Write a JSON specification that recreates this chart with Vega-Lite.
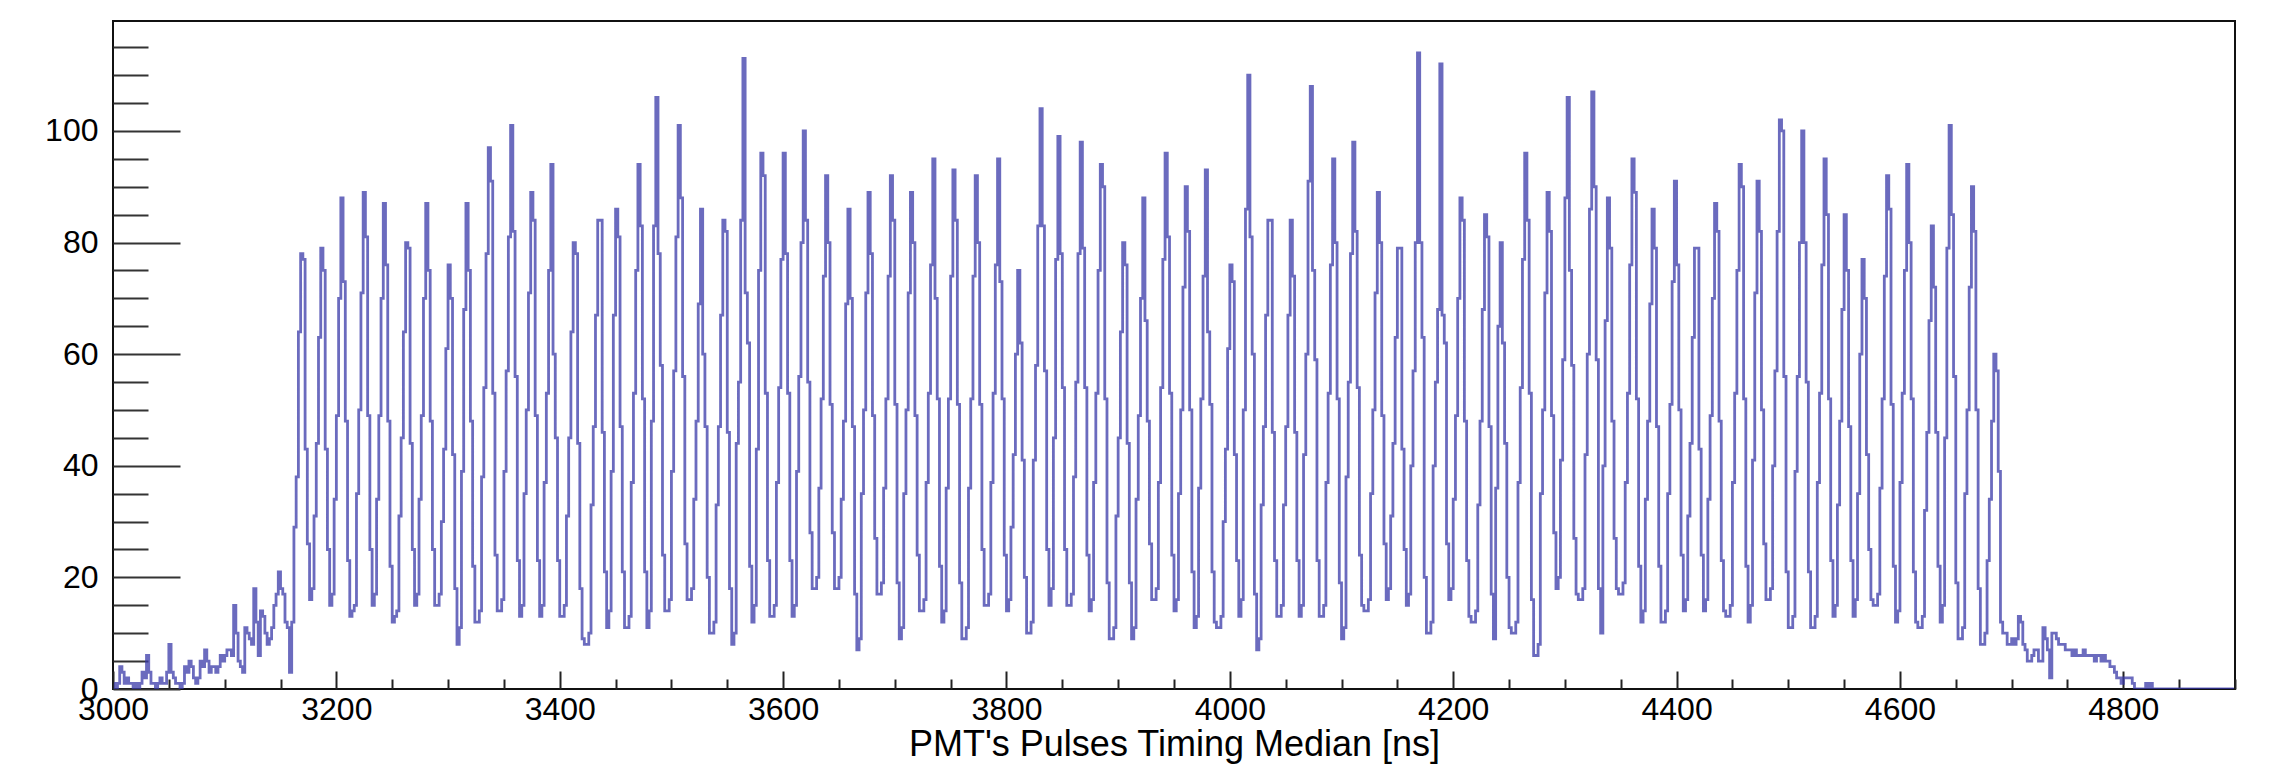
{"$schema":"https://vega.github.io/schema/vega-lite/v6.json","width":2122,"height":668,"autosize":{"type":"none"},"padding":{"left":113,"top":21,"right":45,"bottom":76},"background":"white","config":{"view":{"stroke":"#111","strokeWidth":2},"font":"Liberation Sans"},
"data":{"values":[
{"t":3001,"n":1},{"t":3003,"n":0},{"t":3005,"n":1},{"t":3007,"n":4},{"t":3009,"n":3},{"t":3011,"n":1},{"t":3013,"n":2},{"t":3015,"n":1},{"t":3017,"n":1},{"t":3019,"n":0},
{"t":3021,"n":1},{"t":3023,"n":0},{"t":3025,"n":1},{"t":3027,"n":3},{"t":3029,"n":2},{"t":3031,"n":6},{"t":3033,"n":3},{"t":3035,"n":1},{"t":3037,"n":1},{"t":3039,"n":0},
{"t":3041,"n":1},{"t":3043,"n":2},{"t":3045,"n":1},{"t":3047,"n":1},{"t":3049,"n":3},{"t":3051,"n":8},{"t":3053,"n":3},{"t":3055,"n":2},{"t":3057,"n":1},{"t":3059,"n":1},
{"t":3061,"n":0},{"t":3063,"n":1},{"t":3065,"n":4},{"t":3067,"n":3},{"t":3069,"n":5},{"t":3071,"n":4},{"t":3073,"n":2},{"t":3075,"n":1},{"t":3077,"n":2},{"t":3079,"n":5},
{"t":3081,"n":4},{"t":3083,"n":7},{"t":3085,"n":5},{"t":3087,"n":3},{"t":3089,"n":4},{"t":3091,"n":4},{"t":3093,"n":3},{"t":3095,"n":4},{"t":3097,"n":6},{"t":3099,"n":5},
{"t":3101,"n":6},{"t":3103,"n":7},{"t":3105,"n":7},{"t":3107,"n":6},{"t":3109,"n":15},{"t":3111,"n":10},{"t":3113,"n":5},{"t":3115,"n":4},{"t":3117,"n":3},{"t":3119,"n":11},
{"t":3121,"n":10},{"t":3123,"n":9},{"t":3125,"n":8},{"t":3127,"n":18},{"t":3129,"n":12},{"t":3131,"n":6},{"t":3133,"n":14},{"t":3135,"n":13},{"t":3137,"n":10},{"t":3139,"n":8},
{"t":3141,"n":9},{"t":3143,"n":11},{"t":3145,"n":15},{"t":3147,"n":17},{"t":3149,"n":21},{"t":3151,"n":18},{"t":3153,"n":17},{"t":3155,"n":12},{"t":3157,"n":11},{"t":3159,"n":3},
{"t":3161,"n":12},{"t":3163,"n":29},{"t":3165,"n":38},{"t":3167,"n":64},{"t":3169,"n":78},{"t":3171,"n":77},{"t":3173,"n":43},{"t":3175,"n":26},{"t":3177,"n":16},{"t":3179,"n":18},
{"t":3181,"n":31},{"t":3183,"n":44},{"t":3185,"n":63},{"t":3187,"n":79},{"t":3189,"n":75},{"t":3191,"n":43},{"t":3193,"n":25},{"t":3195,"n":15},{"t":3197,"n":17},{"t":3199,"n":34},
{"t":3201,"n":49},{"t":3203,"n":70},{"t":3205,"n":88},{"t":3207,"n":73},{"t":3209,"n":48},{"t":3211,"n":23},{"t":3213,"n":13},{"t":3215,"n":14},{"t":3217,"n":15},{"t":3219,"n":35},
{"t":3221,"n":50},{"t":3223,"n":71},{"t":3225,"n":89},{"t":3227,"n":81},{"t":3229,"n":49},{"t":3231,"n":25},{"t":3233,"n":15},{"t":3235,"n":17},{"t":3237,"n":34},{"t":3239,"n":49},
{"t":3241,"n":70},{"t":3243,"n":87},{"t":3245,"n":76},{"t":3247,"n":48},{"t":3249,"n":22},{"t":3251,"n":12},{"t":3253,"n":13},{"t":3255,"n":14},{"t":3257,"n":31},{"t":3259,"n":45},
{"t":3261,"n":64},{"t":3263,"n":80},{"t":3265,"n":79},{"t":3267,"n":44},{"t":3269,"n":25},{"t":3271,"n":15},{"t":3273,"n":17},{"t":3275,"n":34},{"t":3277,"n":49},{"t":3279,"n":70},
{"t":3281,"n":87},{"t":3283,"n":75},{"t":3285,"n":48},{"t":3287,"n":25},{"t":3289,"n":15},{"t":3291,"n":15},{"t":3293,"n":17},{"t":3295,"n":30},{"t":3297,"n":43},{"t":3299,"n":61},
{"t":3301,"n":76},{"t":3303,"n":70},{"t":3305,"n":42},{"t":3307,"n":18},{"t":3309,"n":8},{"t":3311,"n":11},{"t":3313,"n":39},{"t":3315,"n":68},{"t":3317,"n":87},{"t":3319,"n":75},
{"t":3321,"n":48},{"t":3323,"n":22},{"t":3325,"n":12},{"t":3327,"n":12},{"t":3329,"n":14},{"t":3331,"n":38},{"t":3333,"n":54},{"t":3335,"n":78},{"t":3337,"n":97},{"t":3339,"n":91},
{"t":3341,"n":53},{"t":3343,"n":24},{"t":3345,"n":14},{"t":3347,"n":14},{"t":3349,"n":16},{"t":3351,"n":39},{"t":3353,"n":57},{"t":3355,"n":81},{"t":3357,"n":101},{"t":3359,"n":82},
{"t":3361,"n":56},{"t":3363,"n":23},{"t":3365,"n":13},{"t":3367,"n":15},{"t":3369,"n":35},{"t":3371,"n":50},{"t":3373,"n":71},{"t":3375,"n":89},{"t":3377,"n":84},{"t":3379,"n":49},
{"t":3381,"n":23},{"t":3383,"n":13},{"t":3385,"n":15},{"t":3387,"n":37},{"t":3389,"n":53},{"t":3391,"n":75},{"t":3393,"n":94},{"t":3395,"n":60},{"t":3397,"n":45},{"t":3399,"n":23},
{"t":3401,"n":13},{"t":3403,"n":13},{"t":3405,"n":15},{"t":3407,"n":31},{"t":3409,"n":45},{"t":3411,"n":64},{"t":3413,"n":80},{"t":3415,"n":78},{"t":3417,"n":44},{"t":3419,"n":18},
{"t":3421,"n":9},{"t":3423,"n":8},{"t":3425,"n":8},{"t":3427,"n":10},{"t":3429,"n":33},{"t":3431,"n":47},{"t":3433,"n":67},{"t":3435,"n":84},{"t":3437,"n":84},{"t":3439,"n":46},
{"t":3441,"n":21},{"t":3443,"n":11},{"t":3445,"n":14},{"t":3447,"n":39},{"t":3449,"n":67},{"t":3451,"n":86},{"t":3453,"n":81},{"t":3455,"n":47},{"t":3457,"n":21},{"t":3459,"n":11},
{"t":3461,"n":11},{"t":3463,"n":13},{"t":3465,"n":37},{"t":3467,"n":53},{"t":3469,"n":75},{"t":3471,"n":94},{"t":3473,"n":83},{"t":3475,"n":52},{"t":3477,"n":21},{"t":3479,"n":11},
{"t":3481,"n":14},{"t":3483,"n":48},{"t":3485,"n":83},{"t":3487,"n":106},{"t":3489,"n":78},{"t":3491,"n":58},{"t":3493,"n":24},{"t":3495,"n":14},{"t":3497,"n":14},{"t":3499,"n":16},
{"t":3501,"n":39},{"t":3503,"n":57},{"t":3505,"n":81},{"t":3507,"n":101},{"t":3509,"n":88},{"t":3511,"n":56},{"t":3513,"n":26},{"t":3515,"n":16},{"t":3517,"n":16},{"t":3519,"n":18},
{"t":3521,"n":34},{"t":3523,"n":48},{"t":3525,"n":69},{"t":3527,"n":86},{"t":3529,"n":60},{"t":3531,"n":47},{"t":3533,"n":20},{"t":3535,"n":10},{"t":3537,"n":10},{"t":3539,"n":12},
{"t":3541,"n":33},{"t":3543,"n":47},{"t":3545,"n":67},{"t":3547,"n":84},{"t":3549,"n":82},{"t":3551,"n":46},{"t":3553,"n":18},{"t":3555,"n":8},{"t":3557,"n":10},{"t":3559,"n":44},
{"t":3561,"n":55},{"t":3563,"n":84},{"t":3565,"n":113},{"t":3567,"n":71},{"t":3569,"n":62},{"t":3571,"n":22},{"t":3573,"n":12},{"t":3575,"n":15},{"t":3577,"n":43},{"t":3579,"n":75},
{"t":3581,"n":96},{"t":3583,"n":92},{"t":3585,"n":53},{"t":3587,"n":23},{"t":3589,"n":13},{"t":3591,"n":13},{"t":3593,"n":15},{"t":3595,"n":37},{"t":3597,"n":54},{"t":3599,"n":77},
{"t":3601,"n":96},{"t":3603,"n":78},{"t":3605,"n":53},{"t":3607,"n":23},{"t":3609,"n":13},{"t":3611,"n":15},{"t":3613,"n":39},{"t":3615,"n":56},{"t":3617,"n":80},{"t":3619,"n":100},
{"t":3621,"n":84},{"t":3623,"n":55},{"t":3625,"n":28},{"t":3627,"n":18},{"t":3629,"n":18},{"t":3631,"n":20},{"t":3633,"n":36},{"t":3635,"n":52},{"t":3637,"n":74},{"t":3639,"n":92},
{"t":3641,"n":80},{"t":3643,"n":51},{"t":3645,"n":28},{"t":3647,"n":18},{"t":3649,"n":18},{"t":3651,"n":20},{"t":3653,"n":34},{"t":3655,"n":48},{"t":3657,"n":69},{"t":3659,"n":86},
{"t":3661,"n":70},{"t":3663,"n":47},{"t":3665,"n":17},{"t":3667,"n":7},{"t":3669,"n":9},{"t":3671,"n":35},{"t":3673,"n":50},{"t":3675,"n":71},{"t":3677,"n":89},{"t":3679,"n":78},
{"t":3681,"n":49},{"t":3683,"n":27},{"t":3685,"n":17},{"t":3687,"n":17},{"t":3689,"n":19},{"t":3691,"n":36},{"t":3693,"n":52},{"t":3695,"n":74},{"t":3697,"n":92},{"t":3699,"n":84},
{"t":3701,"n":51},{"t":3703,"n":19},{"t":3705,"n":9},{"t":3707,"n":11},{"t":3709,"n":35},{"t":3711,"n":50},{"t":3713,"n":71},{"t":3715,"n":89},{"t":3717,"n":80},{"t":3719,"n":49},
{"t":3721,"n":24},{"t":3723,"n":14},{"t":3725,"n":14},{"t":3727,"n":16},{"t":3729,"n":37},{"t":3731,"n":53},{"t":3733,"n":76},{"t":3735,"n":95},{"t":3737,"n":70},{"t":3739,"n":52},
{"t":3741,"n":22},{"t":3743,"n":12},{"t":3745,"n":14},{"t":3747,"n":36},{"t":3749,"n":52},{"t":3751,"n":74},{"t":3753,"n":93},{"t":3755,"n":84},{"t":3757,"n":51},{"t":3759,"n":19},
{"t":3761,"n":9},{"t":3763,"n":9},{"t":3765,"n":11},{"t":3767,"n":36},{"t":3769,"n":52},{"t":3771,"n":74},{"t":3773,"n":92},{"t":3775,"n":80},{"t":3777,"n":51},{"t":3779,"n":25},
{"t":3781,"n":15},{"t":3783,"n":15},{"t":3785,"n":17},{"t":3787,"n":37},{"t":3789,"n":53},{"t":3791,"n":76},{"t":3793,"n":95},{"t":3795,"n":73},{"t":3797,"n":52},{"t":3799,"n":24},
{"t":3801,"n":14},{"t":3803,"n":16},{"t":3805,"n":29},{"t":3807,"n":42},{"t":3809,"n":60},{"t":3811,"n":75},{"t":3813,"n":62},{"t":3815,"n":41},{"t":3817,"n":20},{"t":3819,"n":10},
{"t":3821,"n":10},{"t":3823,"n":12},{"t":3825,"n":41},{"t":3827,"n":58},{"t":3829,"n":83},{"t":3831,"n":104},{"t":3833,"n":83},{"t":3835,"n":57},{"t":3837,"n":25},{"t":3839,"n":15},
{"t":3841,"n":18},{"t":3843,"n":45},{"t":3845,"n":77},{"t":3847,"n":99},{"t":3849,"n":78},{"t":3851,"n":54},{"t":3853,"n":25},{"t":3855,"n":15},{"t":3857,"n":15},{"t":3859,"n":17},
{"t":3861,"n":38},{"t":3863,"n":55},{"t":3865,"n":78},{"t":3867,"n":98},{"t":3869,"n":79},{"t":3871,"n":54},{"t":3873,"n":24},{"t":3875,"n":14},{"t":3877,"n":16},{"t":3879,"n":37},
{"t":3881,"n":53},{"t":3883,"n":75},{"t":3885,"n":94},{"t":3887,"n":90},{"t":3889,"n":52},{"t":3891,"n":19},{"t":3893,"n":9},{"t":3895,"n":9},{"t":3897,"n":11},{"t":3899,"n":31},
{"t":3901,"n":45},{"t":3903,"n":64},{"t":3905,"n":80},{"t":3907,"n":76},{"t":3909,"n":44},{"t":3911,"n":19},{"t":3913,"n":9},{"t":3915,"n":11},{"t":3917,"n":34},{"t":3919,"n":49},
{"t":3921,"n":70},{"t":3923,"n":88},{"t":3925,"n":66},{"t":3927,"n":48},{"t":3929,"n":26},{"t":3931,"n":16},{"t":3933,"n":16},{"t":3935,"n":18},{"t":3937,"n":37},{"t":3939,"n":54},
{"t":3941,"n":77},{"t":3943,"n":96},{"t":3945,"n":81},{"t":3947,"n":53},{"t":3949,"n":24},{"t":3951,"n":14},{"t":3953,"n":16},{"t":3955,"n":35},{"t":3957,"n":50},{"t":3959,"n":72},
{"t":3961,"n":90},{"t":3963,"n":82},{"t":3965,"n":50},{"t":3967,"n":21},{"t":3969,"n":11},{"t":3971,"n":13},{"t":3973,"n":36},{"t":3975,"n":52},{"t":3977,"n":74},{"t":3979,"n":93},
{"t":3981,"n":64},{"t":3983,"n":51},{"t":3985,"n":21},{"t":3987,"n":12},{"t":3989,"n":11},{"t":3991,"n":11},{"t":3993,"n":13},{"t":3995,"n":30},{"t":3997,"n":43},{"t":3999,"n":61},
{"t":4001,"n":76},{"t":4003,"n":73},{"t":4005,"n":42},{"t":4007,"n":23},{"t":4009,"n":13},{"t":4011,"n":16},{"t":4013,"n":50},{"t":4015,"n":86},{"t":4017,"n":110},{"t":4019,"n":81},
{"t":4021,"n":60},{"t":4023,"n":17},{"t":4025,"n":7},{"t":4027,"n":9},{"t":4029,"n":33},{"t":4031,"n":47},{"t":4033,"n":67},{"t":4035,"n":84},{"t":4037,"n":84},{"t":4039,"n":46},
{"t":4041,"n":23},{"t":4043,"n":13},{"t":4045,"n":13},{"t":4047,"n":15},{"t":4049,"n":33},{"t":4051,"n":47},{"t":4053,"n":67},{"t":4055,"n":84},{"t":4057,"n":74},{"t":4059,"n":46},
{"t":4061,"n":23},{"t":4063,"n":13},{"t":4065,"n":15},{"t":4067,"n":42},{"t":4069,"n":60},{"t":4071,"n":91},{"t":4073,"n":108},{"t":4075,"n":75},{"t":4077,"n":59},{"t":4079,"n":23},
{"t":4081,"n":13},{"t":4083,"n":13},{"t":4085,"n":15},{"t":4087,"n":37},{"t":4089,"n":53},{"t":4091,"n":76},{"t":4093,"n":95},{"t":4095,"n":80},{"t":4097,"n":52},{"t":4099,"n":19},
{"t":4101,"n":9},{"t":4103,"n":11},{"t":4105,"n":38},{"t":4107,"n":55},{"t":4109,"n":78},{"t":4111,"n":98},{"t":4113,"n":82},{"t":4115,"n":54},{"t":4117,"n":24},{"t":4119,"n":15},
{"t":4121,"n":14},{"t":4123,"n":14},{"t":4125,"n":16},{"t":4127,"n":35},{"t":4129,"n":50},{"t":4131,"n":71},{"t":4133,"n":89},{"t":4135,"n":80},{"t":4137,"n":49},{"t":4139,"n":26},
{"t":4141,"n":16},{"t":4143,"n":18},{"t":4145,"n":31},{"t":4147,"n":44},{"t":4149,"n":63},{"t":4151,"n":79},{"t":4153,"n":79},{"t":4155,"n":43},{"t":4157,"n":25},{"t":4159,"n":15},
{"t":4161,"n":17},{"t":4163,"n":40},{"t":4165,"n":57},{"t":4167,"n":80},{"t":4169,"n":114},{"t":4171,"n":80},{"t":4173,"n":63},{"t":4175,"n":20},{"t":4177,"n":10},{"t":4179,"n":10},
{"t":4181,"n":12},{"t":4183,"n":40},{"t":4185,"n":55},{"t":4187,"n":68},{"t":4189,"n":112},{"t":4191,"n":67},{"t":4193,"n":62},{"t":4195,"n":26},{"t":4197,"n":16},{"t":4199,"n":18},
{"t":4201,"n":34},{"t":4203,"n":49},{"t":4205,"n":70},{"t":4207,"n":88},{"t":4209,"n":84},{"t":4211,"n":48},{"t":4213,"n":23},{"t":4215,"n":13},{"t":4217,"n":12},{"t":4219,"n":12},
{"t":4221,"n":14},{"t":4223,"n":33},{"t":4225,"n":48},{"t":4227,"n":68},{"t":4229,"n":85},{"t":4231,"n":81},{"t":4233,"n":47},{"t":4235,"n":17},{"t":4237,"n":9},{"t":4239,"n":36},
{"t":4241,"n":65},{"t":4243,"n":80},{"t":4245,"n":62},{"t":4247,"n":44},{"t":4249,"n":20},{"t":4251,"n":11},{"t":4253,"n":10},{"t":4255,"n":10},{"t":4257,"n":12},{"t":4259,"n":37},
{"t":4261,"n":54},{"t":4263,"n":77},{"t":4265,"n":96},{"t":4267,"n":84},{"t":4269,"n":53},{"t":4271,"n":16},{"t":4273,"n":6},{"t":4275,"n":6},{"t":4277,"n":8},{"t":4279,"n":35},
{"t":4281,"n":50},{"t":4283,"n":71},{"t":4285,"n":89},{"t":4287,"n":82},{"t":4289,"n":49},{"t":4291,"n":28},{"t":4293,"n":18},{"t":4295,"n":20},{"t":4297,"n":41},{"t":4299,"n":59},
{"t":4301,"n":88},{"t":4303,"n":106},{"t":4305,"n":75},{"t":4307,"n":58},{"t":4309,"n":27},{"t":4311,"n":17},{"t":4313,"n":16},{"t":4315,"n":16},{"t":4317,"n":18},{"t":4319,"n":42},
{"t":4321,"n":60},{"t":4323,"n":86},{"t":4325,"n":107},{"t":4327,"n":90},{"t":4329,"n":59},{"t":4331,"n":18},{"t":4333,"n":10},{"t":4335,"n":40},{"t":4337,"n":66},{"t":4339,"n":88},
{"t":4341,"n":79},{"t":4343,"n":48},{"t":4345,"n":27},{"t":4347,"n":18},{"t":4349,"n":17},{"t":4351,"n":17},{"t":4353,"n":19},{"t":4355,"n":37},{"t":4357,"n":53},{"t":4359,"n":76},
{"t":4361,"n":95},{"t":4363,"n":89},{"t":4365,"n":52},{"t":4367,"n":22},{"t":4369,"n":12},{"t":4371,"n":14},{"t":4373,"n":34},{"t":4375,"n":48},{"t":4377,"n":69},{"t":4379,"n":86},
{"t":4381,"n":79},{"t":4383,"n":47},{"t":4385,"n":22},{"t":4387,"n":12},{"t":4389,"n":12},{"t":4391,"n":14},{"t":4393,"n":35},{"t":4395,"n":51},{"t":4397,"n":73},{"t":4399,"n":91},
{"t":4401,"n":76},{"t":4403,"n":50},{"t":4405,"n":24},{"t":4407,"n":14},{"t":4409,"n":16},{"t":4411,"n":31},{"t":4413,"n":44},{"t":4415,"n":63},{"t":4417,"n":79},{"t":4419,"n":79},
{"t":4421,"n":43},{"t":4423,"n":24},{"t":4425,"n":14},{"t":4427,"n":16},{"t":4429,"n":34},{"t":4431,"n":49},{"t":4433,"n":70},{"t":4435,"n":87},{"t":4437,"n":82},{"t":4439,"n":48},
{"t":4441,"n":23},{"t":4443,"n":14},{"t":4445,"n":13},{"t":4447,"n":13},{"t":4449,"n":15},{"t":4451,"n":37},{"t":4453,"n":53},{"t":4455,"n":75},{"t":4457,"n":94},{"t":4459,"n":90},
{"t":4461,"n":52},{"t":4463,"n":22},{"t":4465,"n":12},{"t":4467,"n":15},{"t":4469,"n":41},{"t":4471,"n":71},{"t":4473,"n":91},{"t":4475,"n":82},{"t":4477,"n":50},{"t":4479,"n":26},
{"t":4481,"n":16},{"t":4483,"n":16},{"t":4485,"n":18},{"t":4487,"n":40},{"t":4489,"n":57},{"t":4491,"n":82},{"t":4493,"n":102},{"t":4495,"n":100},{"t":4497,"n":56},{"t":4499,"n":21},
{"t":4501,"n":11},{"t":4503,"n":11},{"t":4505,"n":13},{"t":4507,"n":39},{"t":4509,"n":56},{"t":4511,"n":80},{"t":4513,"n":100},{"t":4515,"n":80},{"t":4517,"n":55},{"t":4519,"n":21},
{"t":4521,"n":11},{"t":4523,"n":11},{"t":4525,"n":13},{"t":4527,"n":37},{"t":4529,"n":53},{"t":4531,"n":76},{"t":4533,"n":95},{"t":4535,"n":85},{"t":4537,"n":52},{"t":4539,"n":23},
{"t":4541,"n":13},{"t":4543,"n":15},{"t":4545,"n":33},{"t":4547,"n":48},{"t":4549,"n":68},{"t":4551,"n":85},{"t":4553,"n":75},{"t":4555,"n":47},{"t":4557,"n":23},{"t":4559,"n":13},
{"t":4561,"n":16},{"t":4563,"n":35},{"t":4565,"n":60},{"t":4567,"n":77},{"t":4569,"n":70},{"t":4571,"n":42},{"t":4573,"n":25},{"t":4575,"n":16},{"t":4577,"n":15},{"t":4579,"n":15},
{"t":4581,"n":17},{"t":4583,"n":36},{"t":4585,"n":52},{"t":4587,"n":74},{"t":4589,"n":92},{"t":4591,"n":86},{"t":4593,"n":51},{"t":4595,"n":22},{"t":4597,"n":12},{"t":4599,"n":14},
{"t":4601,"n":37},{"t":4603,"n":53},{"t":4605,"n":75},{"t":4607,"n":94},{"t":4609,"n":80},{"t":4611,"n":52},{"t":4613,"n":21},{"t":4615,"n":12},{"t":4617,"n":11},{"t":4619,"n":11},
{"t":4621,"n":13},{"t":4623,"n":32},{"t":4625,"n":46},{"t":4627,"n":66},{"t":4629,"n":83},{"t":4631,"n":72},{"t":4633,"n":46},{"t":4635,"n":22},{"t":4637,"n":12},{"t":4639,"n":15},
{"t":4641,"n":45},{"t":4643,"n":79},{"t":4645,"n":101},{"t":4647,"n":85},{"t":4649,"n":56},{"t":4651,"n":19},{"t":4653,"n":9},{"t":4655,"n":9},{"t":4657,"n":11},{"t":4659,"n":35},
{"t":4661,"n":50},{"t":4663,"n":72},{"t":4665,"n":90},{"t":4667,"n":82},{"t":4669,"n":50},{"t":4671,"n":18},{"t":4673,"n":8},{"t":4675,"n":8},{"t":4677,"n":10},{"t":4679,"n":23},
{"t":4681,"n":34},{"t":4683,"n":48},{"t":4685,"n":60},{"t":4687,"n":57},{"t":4689,"n":39},{"t":4691,"n":12},{"t":4693,"n":10},{"t":4695,"n":10},{"t":4697,"n":8},{"t":4699,"n":8},
{"t":4701,"n":9},{"t":4703,"n":8},{"t":4705,"n":9},{"t":4707,"n":13},{"t":4709,"n":12},{"t":4711,"n":8},{"t":4713,"n":7},{"t":4715,"n":5},{"t":4717,"n":5},{"t":4719,"n":6},
{"t":4721,"n":7},{"t":4723,"n":7},{"t":4725,"n":5},{"t":4727,"n":5},{"t":4729,"n":11},{"t":4731,"n":9},{"t":4733,"n":7},{"t":4735,"n":2},{"t":4737,"n":10},{"t":4739,"n":10},
{"t":4741,"n":9},{"t":4743,"n":8},{"t":4745,"n":8},{"t":4747,"n":8},{"t":4749,"n":7},{"t":4751,"n":7},{"t":4753,"n":7},{"t":4755,"n":6},{"t":4757,"n":7},{"t":4759,"n":6},
{"t":4761,"n":6},{"t":4763,"n":6},{"t":4765,"n":7},{"t":4767,"n":6},{"t":4769,"n":6},{"t":4771,"n":6},{"t":4773,"n":6},{"t":4775,"n":5},{"t":4777,"n":6},{"t":4779,"n":6},
{"t":4781,"n":5},{"t":4783,"n":6},{"t":4785,"n":5},{"t":4787,"n":5},{"t":4789,"n":4},{"t":4791,"n":4},{"t":4793,"n":3},{"t":4795,"n":2},{"t":4797,"n":2},{"t":4799,"n":1},
{"t":4801,"n":2},{"t":4803,"n":2},{"t":4805,"n":2},{"t":4807,"n":2},{"t":4809,"n":1},{"t":4811,"n":0},{"t":4813,"n":0},{"t":4815,"n":0},{"t":4817,"n":0},{"t":4819,"n":0},
{"t":4821,"n":1},{"t":4823,"n":0},{"t":4825,"n":1},{"t":4827,"n":0},{"t":4829,"n":0},{"t":4831,"n":0},{"t":4833,"n":0},{"t":4835,"n":0},{"t":4837,"n":0},{"t":4839,"n":0},
{"t":4841,"n":0},{"t":4843,"n":0},{"t":4845,"n":0},{"t":4847,"n":0},{"t":4849,"n":0},{"t":4851,"n":0},{"t":4853,"n":0},{"t":4855,"n":0},{"t":4857,"n":0},{"t":4859,"n":0},
{"t":4861,"n":0},{"t":4863,"n":0},{"t":4865,"n":0},{"t":4867,"n":0},{"t":4869,"n":0},{"t":4871,"n":0},{"t":4873,"n":0},{"t":4875,"n":0},{"t":4877,"n":0},{"t":4879,"n":0},
{"t":4881,"n":0},{"t":4883,"n":0},{"t":4885,"n":0},{"t":4887,"n":0},{"t":4889,"n":0},{"t":4891,"n":0},{"t":4893,"n":0},{"t":4895,"n":0},{"t":4897,"n":0},{"t":4899,"n":0}
]},
"mark":{"type":"line","interpolate":"step","stroke":"#3a3aa8","strokeOpacity":0.75,"strokeWidth":2.8,"clip":true},
"encoding":{
"x":{"field":"t","type":"quantitative","scale":{"domain":[3000,4900],"nice":false,"zero":false},
"axis":{"title":"PMT's Pulses Timing Median [ns]","titleFont":"Liberation Sans","titleFontSize":36,"titleFontWeight":"normal","titleColor":"black","titlePadding":-6,
"values":[3000,3050,3100,3150,3200,3250,3300,3350,3400,3450,3500,3550,3600,3650,3700,3750,3800,3850,3900,3950,4000,4050,4100,4150,4200,4250,4300,4350,4400,4450,4500,4550,4600,4650,4700,4750,4800,4850,4900],
"format":"d","labelExpr":"datum.value % 200 === 0 && datum.value < 4900 ? datum.label : ''","labelFont":"Liberation Sans","labelFontSize":32,"labelColor":"black","labelPadding":23,"labelFlush":false,"labelOverlap":false,
"tickSize":{"condition":{"test":"datum.value % 200 === 0","value":-18},"value":-10},"tickColor":"#222","tickWidth":2,"domain":false,"grid":false}},
"y":{"field":"n","type":"quantitative","scale":{"domain":[0,119.7],"nice":false},
"axis":{"title":null,"values":[0,5,10,15,20,25,30,35,40,45,50,55,60,65,70,75,80,85,90,95,100,105,110,115],
"labelExpr":"datum.value % 20 === 0 ? datum.label : ''","labelFont":"Liberation Sans","labelFontSize":32,"labelColor":"black","labelPadding":82,"labelFlush":false,"labelOverlap":false,
"tickSize":{"condition":{"test":"datum.value % 20 === 0","value":-67},"value":-35},"tickColor":"#333","tickWidth":2,"domain":false,"grid":false}}
}}
